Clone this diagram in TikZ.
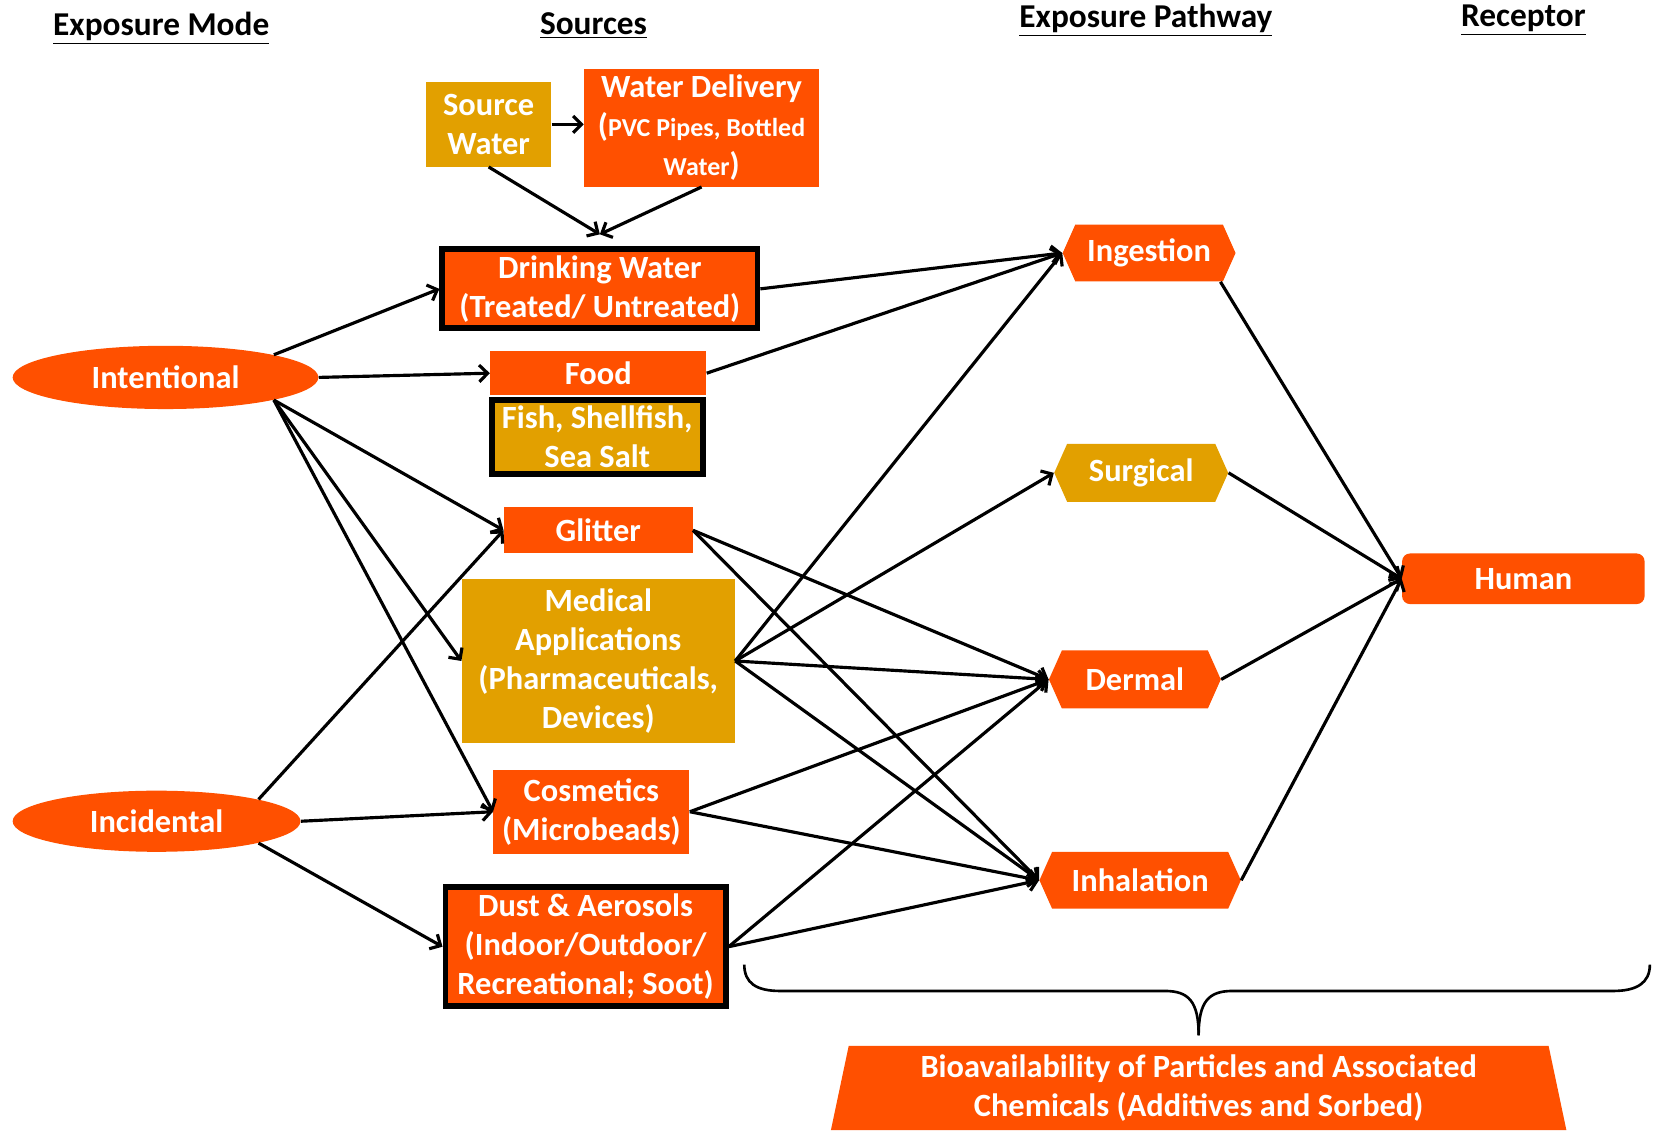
\documentclass[tikz,border=0pt]{standalone}
\usepackage{fontspec}
\setmainfont{Carlito}
\usetikzlibrary{arrows.meta}
\usetikzlibrary{shapes.geometric,shapes.symbols}

\definecolor{srcorange}{RGB}{255,80,0}
\definecolor{srcgold}{RGB}{226,160,0}

\tikzset{
	every node/.style={font=\bfseries\fontsize{17.5}{21}\selectfont, text=white, inner sep=0pt, align=center},
	obox/.style={rectangle, fill=srcorange},
	gbox/.style={rectangle, fill=srcgold},
	thickframe/.style={draw=black, line width=0.11cm},
	modeell/.style={ellipse, fill=srcorange},
	pathway/.style={signal, signal to=west and east, signal pointer angle=132, fill=srcorange},
	colhead/.style={text=black, font=\bfseries\fontsize{18}{21}\selectfont},
	arr/.style={line width=0.06cm, -{Straight Barb[length=4.5pt,width=9pt]}},
}

\begin{document}
\begin{tikzpicture}
	\useasboundingbox (0,0) rectangle (31.36,-21.5);
	% column heads
	\node[colhead] (hmode) at (3.06,-0.53) {\underline{Exposure Mode}};
	\node[colhead] (hsrc) at (11.26,-0.49) {\underline{Sources}};
	\node[colhead] (hpath) at (21.74,-0.39) {\underline{Exposure Pathway}};
	\node[colhead] (hrec) at (28.9,-0.39) {\underline{Receptor}};
	% sources
	\node[gbox, minimum width=2.38cm, minimum height=1.6cm] (sw) at (9.27,-2.36) {Source\\Water};
	\node[obox, minimum width=4.46cm, minimum height=2.24cm] (wd) at (13.31,-2.42) {Water Delivery\\({\fontsize{14}{17}\selectfont PVC Pipes, Bottled}\\{\fontsize{14}{17}\selectfont Water})};
	\node[obox, thickframe, minimum width=5.98cm, minimum height=1.5cm] (dw) at (11.38,-5.48) {Drinking Water\\(Treated/ Untreated)};
	\node[obox, minimum width=4.1cm, minimum height=0.84cm] (food) at (11.35,-7.08) {Food};
	\node[gbox, thickframe, minimum width=4.0cm, minimum height=1.4cm] (fish) at (11.33,-8.29) {Fish, Shellfish,\\Sea Salt};
	\node[obox, minimum width=3.58cm, minimum height=0.88cm] (glit) at (11.35,-10.06) {Glitter};
	\node[gbox, minimum width=5.18cm, minimum height=3.12cm] (med) at (11.35,-12.54) {Medical\\Applications\\(Pharmaceuticals,\\Devices)};
	\node[obox, minimum width=3.72cm, minimum height=1.6cm] (cosm) at (11.22,-15.4) {Cosmetics\\(Microbeads)};
	\node[obox, thickframe, minimum width=5.32cm, minimum height=2.26cm] (dust) at (11.11,-17.96) {Dust \& Aerosols\\(Indoor/Outdoor/\\Recreational; Soot)};
	% exposure modes
	\node[modeell, minimum width=5.8cm, minimum height=1.2cm] (int) at (3.14,-7.16) {Intentional};
	\node[modeell, minimum width=5.46cm, minimum height=1.16cm] (inc) at (2.97,-15.58) {Incidental};
	% pathways
	\node[pathway, minimum width=3.28cm, minimum height=1.08cm] (ing) at (21.8,-4.8) {Ingestion};
	\node[pathway, fill=srcgold, minimum width=3.3cm, minimum height=1.1cm] (surg) at (21.65,-8.97) {Surgical};
	\node[pathway, minimum width=3.26cm, minimum height=1.1cm] (derm) at (21.53,-12.89) {Dermal};
	\node[pathway, minimum width=3.82cm, minimum height=1.08cm] (inh) at (21.63,-16.7) {Inhalation};
	% receptor
	\node[obox, rounded corners=0.15cm, minimum width=4.6cm, minimum height=0.96cm] (hum) at (28.9,-10.98) {Human};
	\node[trapezium, trapezium left angle=78, trapezium right angle=78, trapezium stretches=true, fill=srcorange, minimum width=14cm, minimum height=1.6cm] (bio) at (22.74,-20.64) {Bioavailability of Particles and Associated\\Chemicals (Additives and Sorbed)};

	% modes to sources
	\draw[arr] (int.north east) -- (dw.west);
	\draw[arr] (int.east) -- (food.west);
	\draw[arr] (int.south east) -- (glit.west);
	\draw[arr] (int.south east) -- (med.west);
	\draw[arr] (int.south east) -- (cosm.west);
	\draw[arr] (inc.north east) -- (glit.west);
	\draw[arr] (inc.east) -- (cosm.west);
	\draw[arr] (inc.south east) -- (dust.west);
	% water
	\coordinate (dwtop) at ([yshift=0.23cm]dw.north);
	\draw[arr] (sw.east) -- (sw.east -| wd.west);
	\draw[arr] (sw.south) -- (dwtop);
	\draw[arr] (wd.south) -- (dwtop);
	% sources to pathways
	\draw[arr] (dw.east) -- (ing.west);
	\draw[arr] (food.east) -- (ing.west);
	\foreach \t in {ing,surg,derm,inh}
		\draw[arr] (med.east) -- (\t.west);
	\foreach \s in {glit,cosm,dust} {
		\draw[arr] (\s.east) -- (derm.west);
		\draw[arr] (\s.east) -- (inh.west);
	}
	% pathways to receptor
	\draw[arr] (ing.-22) -- (hum.west);
	\foreach \p in {surg,derm,inh}
		\draw[arr] (\p.east) -- (hum.west);
	% brace
	\draw[line width=0.05cm] (14.12,-18.3) .. controls (14.12,-18.65) and (14.35,-18.8) .. (14.8,-18.8) -- (22.1,-18.8) .. controls (22.55,-18.8) and (22.74,-19.0) .. (22.74,-19.64);
	\draw[line width=0.05cm] (22.74,-19.64) .. controls (22.74,-19.0) and (22.93,-18.8) .. (23.38,-18.8) -- (30.6,-18.8) .. controls (31.05,-18.8) and (31.3,-18.65) .. (31.3,-18.3);
\end{tikzpicture}
\end{document}
